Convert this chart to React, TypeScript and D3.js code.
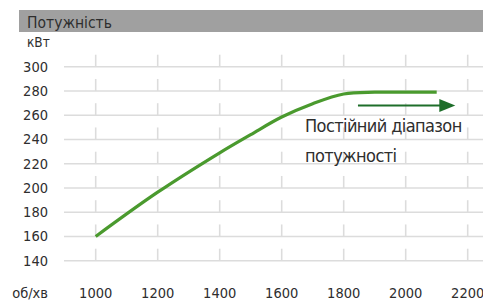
import React from "react";
import * as d3 from "d3";

const rpm = [1000, 1200, 1400, 1500, 1600, 1700, 1800, 1900, 2000, 2100];
const power = [160, 196.5, 229, 244, 258.5, 269.5, 277.5, 279, 279, 279];
const xTicks = [1000, 1200, 1400, 1600, 1800, 2000, 2200];
const yTicks = [140, 160, 180, 200, 220, 240, 260, 280, 300];
const title = "Потужність";
const yUnit = "кВт";
const xUnit = "об/хв";
const note = ["Постійний діапазон", "потужності"];
const arrowRange = [1846, 2160];
const arrowLevel = 268;

const W = 483;
const H = 302;
const FONT = "'Liberation Sans Narrow', 'DejaVu Sans Condensed', 'Roboto Condensed', sans-serif";

export default function App() {
  const x = d3.scaleLinear().domain([1000, 2200]).range([95.7, 467.7]);
  const y = d3.scaleLinear().domain([140, 300]).range([260.7, 66.7]);
  const line = d3
    .line<number>()
    .x((_, i) => x(rpm[i]))
    .y((d) => y(d))
    .curve(d3.curveCatmullRom.alpha(0.5));

  const ax0 = x(arrowRange[0]);
  const ax1 = x(arrowRange[1]);
  const ay = y(arrowLevel);

  return (
    <svg
      width={W}
      height={H}
      style={{ position: "absolute", left: 0, top: 0, background: "#fff" }}
      fontFamily={FONT}
    >
      <rect x={19} y={10} width={W - 19} height={22} fill="#a0a0a0" />
      <text x={27} y={28} fontSize={15.5} fill="#2e2e2e">
        {title}
      </text>
      <text x={27} y={47} fontSize={13.5} fill="#2e2e2e">
        {yUnit}
      </text>
      {yTicks.map((t) => (
        <g key={t}>
          <line x1={64} x2={W} y1={y(t)} y2={y(t)} stroke="#dcdcdc" strokeWidth={1.6} />
          {xTicks.map((v) => (
            <line
              key={v}
              x1={x(v)}
              x2={x(v)}
              y1={y(t) - 12}
              y2={y(t)}
              stroke="#dcdcdc"
              strokeWidth={1.6}
            />
          ))}
          <text x={48} y={y(t) + 5} fontSize={14.5} textAnchor="end" fill="#2e2e2e">
            {t}
          </text>
        </g>
      ))}
      {xTicks.map((v) => (
        <text key={v} x={x(v)} y={298} fontSize={14.5} textAnchor="middle" fill="#2e2e2e">
          {v}
        </text>
      ))}
      <text x={48} y={298} fontSize={14.5} textAnchor="end" fill="#2e2e2e">
        {xUnit}
      </text>
      <path d={line(power) || ""} fill="none" stroke="#4a9a2e" strokeWidth={3.2} />
      <line x1={ax0} x2={ax1 - 14} y1={ay} y2={ay} stroke="#1e6e2a" strokeWidth={2} />
      <path
        d={`M${ax1 - 16},${ay - 6.5} L${ax1},${ay} L${ax1 - 16},${ay + 6.5} Z`}
        fill="#1e6e2a"
      />
      <text x={305} y={132} fontSize={18} fill="#2e2e2e" letterSpacing={-0.6}>
        {note[0]}
      </text>
      <text x={305} y={162} fontSize={18} fill="#2e2e2e" letterSpacing={-0.6}>
        {note[1]}
      </text>
    </svg>
  );
}
